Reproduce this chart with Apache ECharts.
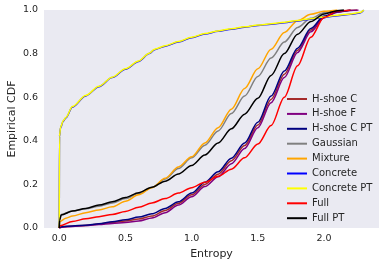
<!DOCTYPE html>
<html><head><meta charset="utf-8">
<script src="https://cdn.jsdelivr.net/npm/echarts@6/dist/echarts.min.js"></script>
<style>html,body{margin:0;padding:0;background:#fff}#c{width:386px;height:266px}</style>
</head><body><div id="c"></div>
<script>
var seriesNames = ['H-shoe C','H-shoe F','H-shoe C PT','Gaussian','Mixture','Concrete','Concrete PT','Full','Full PT'];
var seriesColors = ['#a52a2a','#800080','#000080','#808080','#ffa500','#0000ff','#ffff00','#ff0000','#000000'];
var xTicks = [0, 0.5, 1.0, 1.5, 2.0];
var yTicks = [0, 0.2, 0.4, 0.6, 0.8, 1.0];

var hshoeC = [[0,0],[0.02,0.005],[0.1,0.008],[0.2,0.012],[0.3,0.018],[0.4,0.025],[0.5,0.032],[0.6,0.041],[0.7,0.055],[0.8,0.08],[0.9,0.113],[1.0,0.152],[1.1,0.2],[1.2,0.247],[1.3,0.308],[1.4,0.378],[1.5,0.472],[1.6,0.59],[1.7,0.705],[1.8,0.815],[1.9,0.908],[2.0,0.968],[2.1,0.992],[2.2,0.999],[2.25,1.0]];
var hshoeF = [[0,0],[0.02,0.004],[0.1,0.007],[0.2,0.011],[0.3,0.016],[0.4,0.021],[0.5,0.025],[0.6,0.032],[0.7,0.046],[0.8,0.07],[0.9,0.105],[1.0,0.143],[1.1,0.19],[1.2,0.235],[1.3,0.295],[1.4,0.365],[1.5,0.46],[1.6,0.575],[1.7,0.69],[1.8,0.805],[1.9,0.9],[2.0,0.965],[2.1,0.99],[2.2,0.998],[2.26,1.0]];
var hshoeCPT = [[0,0],[0.02,0.006],[0.1,0.009],[0.2,0.013],[0.3,0.02],[0.4,0.029],[0.5,0.038],[0.6,0.05],[0.7,0.065],[0.8,0.09],[0.9,0.12],[1.0,0.16],[1.1,0.21],[1.2,0.258],[1.3,0.32],[1.4,0.39],[1.5,0.485],[1.6,0.605],[1.7,0.72],[1.8,0.825],[1.9,0.915],[2.0,0.972],[2.1,0.993],[2.2,1.0]];
var gaussian = [[0,0],[0.003,0.04],[0.015,0.062],[0.1,0.078],[0.2,0.088],[0.3,0.1],[0.4,0.115],[0.5,0.135],[0.6,0.158],[0.7,0.186],[0.8,0.225],[0.9,0.273],[1.0,0.322],[1.1,0.38],[1.2,0.445],[1.3,0.525],[1.4,0.605],[1.5,0.695],[1.6,0.78],[1.7,0.853],[1.8,0.92],[1.9,0.962],[2.0,0.987],[2.1,0.998],[2.15,1.0]];
var mixture = [[0,0],[0.005,0.03],[0.05,0.045],[0.1,0.055],[0.2,0.07],[0.3,0.083],[0.4,0.097],[0.5,0.123],[0.6,0.152],[0.7,0.185],[0.8,0.228],[0.9,0.28],[1.0,0.327],[1.1,0.39],[1.2,0.46],[1.3,0.545],[1.4,0.64],[1.5,0.73],[1.6,0.82],[1.7,0.897],[1.8,0.951],[1.9,0.98],[2.0,0.994],[2.1,1.0]];
var concrete = [[0,0],[0.002,0.42],[0.01,0.46],[0.03,0.49],[0.05,0.505],[0.1,0.555],[0.2,0.606],[0.3,0.648],[0.4,0.69],[0.5,0.728],[0.6,0.764],[0.68,0.8],[0.72,0.818],[0.8,0.834],[0.9,0.853],[1.0,0.873],[1.1,0.89],[1.2,0.902],[1.3,0.912],[1.4,0.921],[1.5,0.929],[1.6,0.935],[1.7,0.942],[1.8,0.95],[1.9,0.958],[2.0,0.966],[2.1,0.974],[2.2,0.98],[2.27,0.986],[2.3,1.0]];
var concretePT = [[0,0],[0.002,0.42],[0.01,0.462],[0.03,0.492],[0.05,0.507],[0.1,0.557],[0.2,0.608],[0.3,0.65],[0.4,0.692],[0.5,0.73],[0.6,0.766],[0.68,0.802],[0.72,0.82],[0.8,0.836],[0.9,0.855],[1.0,0.875],[1.1,0.892],[1.2,0.904],[1.3,0.914],[1.4,0.923],[1.5,0.931],[1.6,0.937],[1.7,0.944],[1.8,0.952],[1.9,0.96],[2.0,0.968],[2.1,0.976],[2.2,0.982],[2.27,0.988],[2.3,1.0]];
var full = [[0,0],[0.005,0.01],[0.1,0.03],[0.2,0.042],[0.3,0.052],[0.4,0.062],[0.5,0.076],[0.6,0.095],[0.7,0.115],[0.8,0.135],[0.9,0.16],[1.0,0.185],[1.1,0.21],[1.2,0.237],[1.3,0.27],[1.4,0.322],[1.5,0.385],[1.6,0.47],[1.7,0.6],[1.8,0.744],[1.9,0.875],[2.0,0.966],[2.1,0.995],[2.2,1.0]];
var fullPT = [[0,0],[0.003,0.035],[0.015,0.06],[0.1,0.078],[0.2,0.09],[0.3,0.105],[0.4,0.12],[0.5,0.14],[0.6,0.162],[0.7,0.187],[0.8,0.215],[0.9,0.248],[1.0,0.287],[1.1,0.335],[1.2,0.39],[1.3,0.455],[1.4,0.522],[1.5,0.595],[1.6,0.7],[1.7,0.8],[1.8,0.889],[1.9,0.947],[2.0,0.982],[2.1,0.997],[2.15,1.0]];

var allData = [hshoeC, hshoeF, hshoeCPT, gaussian, mixture, concrete, concretePT, full, fullPT];

var chart = echarts.init(document.getElementById('c'), null, {renderer:'canvas'});
var txt = '#262626';
var fam = 'DejaVu Sans';
chart.setOption({
  animation:false,
  backgroundColor:'#ffffff',
  grid:{left:44,right:7,top:10,bottom:38,show:true,backgroundColor:'#EAEAF2',borderWidth:0,containLabel:false,outerBoundsMode:'none'},
  legend:{
    orient:'vertical', left:282, top:88,
    itemWidth:20, itemHeight:2, itemGap:2.9, icon:'rect',
    textStyle:{color:txt,fontFamily:fam,fontSize:10,lineHeight:12},
    data:seriesNames
  },
  xAxis:{
    type:'value', min:-0.115, max:2.415,
    name:'Entropy', nameLocation:'middle', nameGap:21, nameMoveOverlap:false,
    nameTextStyle:{color:txt,fontFamily:fam,fontSize:11},
    axisLine:{show:false}, axisTick:{show:false}, splitLine:{show:false},
    axisLabel:{customValues:xTicks,color:txt,fontFamily:fam,fontSize:9.5,margin:6,formatter:function(v){return v.toFixed(1);}}
  },
  yAxis:{
    type:'value', min:0, max:1, interval:0.2,
    name:'Empirical CDF', nameLocation:'middle', nameGap:26, nameMoveOverlap:false,
    nameTextStyle:{color:txt,fontFamily:fam,fontSize:11},
    axisLine:{show:false}, axisTick:{show:false}, splitLine:{show:false},
    axisLabel:{customValues:yTicks,color:txt,fontFamily:fam,fontSize:9.5,margin:6,formatter:function(v){return v.toFixed(1);}}
  },
  series: seriesNames.map(function(n,i){
    return {name:n,type:'line',data:allData[i],showSymbol:false,symbol:'none',
      smooth:0.3,smoothMonotone:'x',color:seriesColors[i],
      lineStyle:{width:1.5,color:seriesColors[i]}};
  })
});
</script></body></html>
